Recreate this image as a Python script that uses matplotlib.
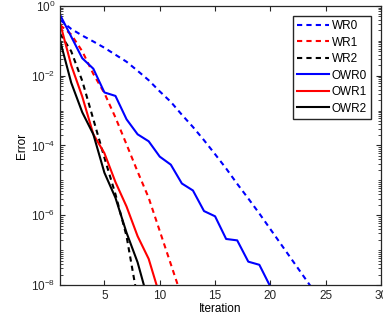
import numpy as np
import matplotlib
matplotlib.use('Agg')
from matplotlib import pyplot as plt
from matplotlib.ticker import LogLocator, FixedLocator, NullFormatter

plt.rcParams['font.family'] = ['Liberation Sans', 'DejaVu Sans']

# log10 of error per iteration
wr0 = [-0.40, -0.66, -0.85, -1.02, -1.20, -1.40, -1.60, -1.86, -2.13, -2.45, -2.75, -3.12,
       -3.47, -3.85, -4.25, -4.66, -5.10, -5.52, -5.95, -6.40, -6.85, -7.30, -7.75, -8.20]
wr1 = [-0.55, -0.82, -1.30, -1.95, -2.50, -3.20, -3.97, -4.75, -5.50, -6.45, -7.40, -8.35]
wr2 = [-0.80, -1.30, -2.15, -3.25, -4.35, -5.40, -6.60, -8.40]
owr0 = [-0.26, -0.88, -1.50, -1.80, -2.48, -2.58, -3.25, -3.68, -3.88, -4.32, -4.55, -5.09,
        -5.29, -5.88, -6.03, -6.68, -6.72, -7.33, -7.42, -8.05]
owr1 = [-0.50, -1.70, -2.60, -3.68, -4.22, -5.05, -5.75, -6.60, -7.25, -8.30]
owr2 = [-1.00, -2.20, -3.05, -3.68, -4.78, -5.50, -6.50, -7.35, -8.50]

series = [('WR0', wr0, 'b', '--'), ('WR1', wr1, 'r', '--'), ('WR2', wr2, 'k', '--'),
          ('OWR0', owr0, 'b', '-'), ('OWR1', owr1, 'r', '-'), ('OWR2', owr2, 'k', '-')]

fig = plt.figure(figsize=(3.83, 3.28), dpi=100)
ax = fig.add_axes([0.157, 0.131, 0.838, 0.851])

for name, vals, c, ls in series:
    it = np.arange(1, len(vals) + 1)
    line, = ax.semilogy(it, 10.0 ** np.array(vals), color=c, linestyle=ls, linewidth=1.5, label=name)
    if ls == '--':
        line.set_dashes((2.5, 2))

ax.set_xlim(1, 30)
ax.set_ylim(1e-8, 1)
ax.xaxis.set_major_locator(FixedLocator([5, 10, 15, 20, 25, 30]))
ax.yaxis.set_major_locator(FixedLocator([1e-8, 1e-6, 1e-4, 1e-2, 1e0]))
ax.yaxis.set_minor_locator(LogLocator(base=10, subs=np.arange(1, 10), numticks=50))
ax.yaxis.set_minor_formatter(NullFormatter())
ax.tick_params(which='both', direction='in', top=True, right=True, labelsize=8.5, colors='#262626')
ax.tick_params(which='major', length=3.5, width=0.8)
ax.tick_params(which='minor', length=2, width=0.6)
for s in ax.spines.values():
    s.set_color('#262626')
    s.set_linewidth(0.9)

ax.set_xlabel('Iteration', fontsize=8.5, labelpad=1)
ax.set_ylabel('Error', fontsize=8.5, labelpad=2)

leg = ax.legend(loc='upper right', fontsize=8.5, handlelength=2.7, handletextpad=0.2,
                labelspacing=0.38, borderpad=0.35, borderaxespad=0.85, fancybox=False)
leg.get_frame().set_edgecolor('#262626')
leg.get_frame().set_linewidth(1.0)
leg.get_frame().set_alpha(1)

plt.savefig('out.png', dpi=100)
